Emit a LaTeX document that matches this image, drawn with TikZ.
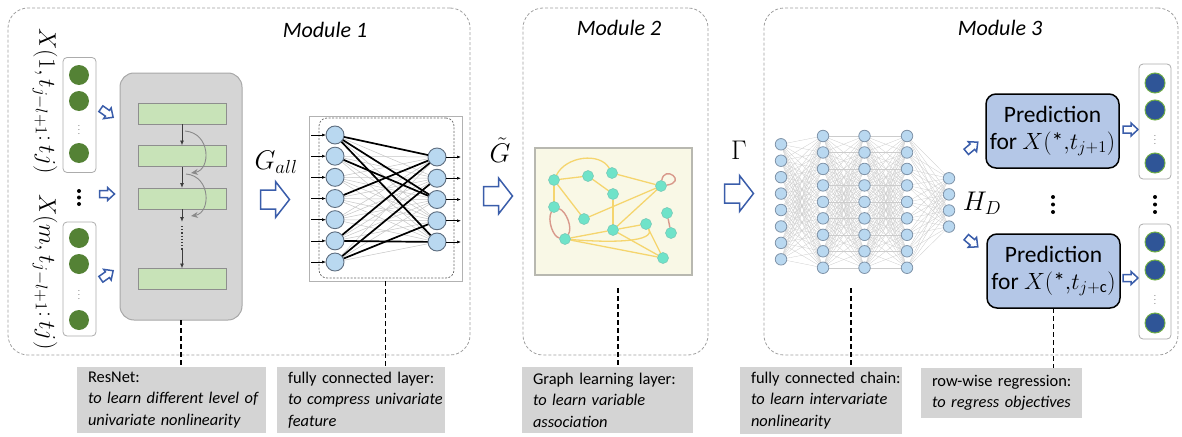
\RequirePackage{fix-cm}
\documentclass[tikz,border=0pt]{standalone}
\usepackage{fontspec}
\setmainfont{Carlito}
\usetikzlibrary{arrows.meta,calc}

\definecolor{framegray}{HTML}{A0A0A0}
\definecolor{arrblue}{HTML}{3A5DAA}
\definecolor{ingreen}{HTML}{548235}
\definecolor{resfill}{HTML}{D5D5D5}
\definecolor{resedge}{HTML}{A8A8A8}
\definecolor{barfill}{HTML}{C8E3B8}
\definecolor{baredge}{HTML}{8E8E8E}
\definecolor{arrdark}{HTML}{3C3C3C}
\definecolor{skipgray}{HTML}{8A8A8A}
\definecolor{fcfill}{HTML}{B9D8F0}
\definecolor{fcedge}{HTML}{5E6E80}
\definecolor{dedge}{HTML}{7F93A8}
\definecolor{gbg}{HTML}{F9F8E6}
\definecolor{gborder}{HTML}{B8B8B0}
\definecolor{gcyan}{HTML}{6FE3C9}
\definecolor{yedgec}{HTML}{F5D56E}
\definecolor{redgec}{HTML}{D99A8C}
\definecolor{predfill}{HTML}{B4C7E7}
\definecolor{outblue}{HTML}{2F5597}
\definecolor{outgreen}{HTML}{70AD47}
\definecolor{labgray}{HTML}{D4D4D4}

\pgfdeclarelayer{bg}
\pgfdeclarelayer{edges}
\pgfsetlayers{bg,edges,main}

% hollow block arrow: centre, angle, length, head width, shaft width, head length
\newcommand\hollowarrow[6]{%
  \draw[blockarr,shift={(#1)},rotate=#2]
    ({-#3/2},{-#5/2}) -- ({#3/2-#6},{-#5/2}) -- ({#3/2-#6},{-#4/2}) -- ({#3/2},0)
    -- ({#3/2-#6},{#4/2}) -- ({#3/2-#6},{#5/2}) -- ({-#3/2},{#5/2}) -- cycle;}

\begin{document}
\begin{tikzpicture}[x=1pt,y=-1pt,
  every node/.style={inner sep=0pt,outer sep=0pt},
  modframe/.style={draw=framegray,dash pattern=on 3pt off 2pt,rounded corners=20,line width=0.8},
  modtitle/.style={font=\fontsize{22}{26}\selectfont\itshape},
  vecbox/.style={draw=gray!65,fill=white,rounded corners=4,line width=0.8},
  gdot/.style={circle,fill=ingreen,minimum size=20},
  bdot/.style={circle,fill=outblue,draw=outgreen,line width=1,minimum size=20},
  bigdot/.style={circle,fill=black,minimum size=4},
  smalldots/.style={font=\fontsize{9}{9}\selectfont,text=gray},
  resbox/.style={draw=resedge,fill=resfill,rounded corners=14,line width=1},
  bar/.style={draw=baredge,fill=barfill,line width=0.8,minimum width=88,minimum height=21},
  resarr/.style={draw=arrdark,line width=0.9,-{Latex[length=5,width=4]}},
  skiparr/.style={draw=skipgray,line width=0.9,-{Stealth[length=7,width=6]}},
  fcnode/.style={circle,draw=fcedge,fill=fcfill,line width=0.9,minimum size=18},
  fcthin/.style={draw=gray!45,line width=0.5},
  fcthick/.style={draw=black,line width=1.7},
  smallarr/.style={draw=black,line width=0.6,-{Latex[length=4,width=3]}},
  dnode/.style={circle,draw=dedge,fill=fcfill,line width=0.8,minimum size=11.5},
  dline/.style={draw=gray!40,line width=0.3},
  gnode/.style={circle,fill=gcyan,draw=gcyan!70!gray,line width=0.5,minimum size=11},
  yedge/.style={draw=yedgec,line width=1.3},
  redge/.style={draw=redgec,line width=1.4},
  pred/.style={draw=black,line width=1.5,fill=predfill,rounded corners=10,align=center,
    font=\fontsize{23.5}{27}\selectfont,minimum width=133,minimum height=74},
  mathlab/.style={font=\fontsize{27}{31}\selectfont},
  blockarr/.style={draw=arrblue,fill=white,line width=1.5,line join=miter},
  dashconn/.style={draw=black,line width=1.8,dash pattern=on 5pt off 3pt},
  labbox/.style={fill=labgray,align=left,anchor=north west,inner xsep=11pt,
    font=\fontsize{16.4}{21.5}\selectfont}]

\useasboundingbox (0,0) rectangle (1182,436);

% ---------- frames and backgrounds ----------
\begin{pgfonlayer}{bg}
  \node[modframe,minimum width=462,minimum height=347] (mod1) at (239,181.5) {};
  \node[modframe,minimum width=185,minimum height=347] (mod2) at (615.5,181.5) {};
  \node[modframe,minimum width=414,minimum height=347] (mod3) at (971,181.5) {};
  \node[draw=gborder,fill=gbg,line width=1.2,minimum width=157,minimum height=127] (gbox) at (613.5,211.5) {};
  \node[draw=gray!60,fill=white,line width=0.8,minimum width=153,minimum height=165] (fcbox) at (385.5,198.5) {};
  \node[draw=gray!80!black,dash pattern=on 2pt off 1.5pt,rounded corners=8,line width=0.7,
        minimum width=135,minimum height=160] (fcin) at (386.5,198) {};
\end{pgfonlayer}

\node[modtitle] (title1) at (325,30) {Module 1};
\node[modtitle] (title2) at (619,28) {Module 2};
\node[modtitle] (title3) at (1000,28) {Module 3};

% ---------- Module 1: inputs ----------
\node[vecbox,minimum width=33,minimum height=115] (vin1) at (79.5,115) {};
\node[gdot] (in1a) at (79,75) {};
\node[gdot] (in1b) at (79,101) {};
\node[smalldots] (in1d) at (79,127) {$\vdots$};
\node[gdot] (in1c) at (79,153) {};

\node[vecbox,minimum width=33,minimum height=114] (vin2) at (79.5,279) {};
\node[gdot] (in2a) at (79,238) {};
\node[gdot] (in2b) at (79,264) {};
\node[smalldots] (in2d) at (79,292) {$\vdots$};
\node[gdot] (in2c) at (79,320) {};

\node[bigdot] (vd1) at (79,191) {};
\node[bigdot] (vd2) at (79,197.5) {};
\node[bigdot] (vd3) at (79,204) {};

\node[rotate=-90,font=\fontsize{24}{28}\selectfont] (xlab1) at (45,101) {$X(1,t_{j-l+1}\colon tj)$};
\node[rotate=-90,font=\fontsize{24}{28}\selectfont] (xlab2) at (45,272) {$X(m,t_{j-l+1}\colon tj)$};

\hollowarrow{107,113}{-35}{15}{13}{7}{7}
\hollowarrow{107,194}{0}{15}{13}{7}{7}
\hollowarrow{107,275}{35}{15}{13}{7}{7}

% ---------- Module 1: ResNet ----------
\node[resbox,minimum width=122,minimum height=247] (res) at (181,196.5) {};
\node[bar] (b1) at (182,113.5) {};
\node[bar] (b2) at (182,156) {};
\node[bar] (b3) at (182,198.5) {};
\node[bar] (b4) at (182,279) {};
\draw[resarr] (b1.south) -- (b2.north);
\draw[resarr] (b2.south) -- (b3.north);
\coordinate (r3end) at (182,222);
\coordinate (rdot1) at (182,226);
\coordinate (rdot2) at (182,250);
\draw[resarr] (b3.south) -- (r3end);
\draw[draw=arrdark,line width=1.1,dash pattern=on 1.2pt off 2pt] (rdot1) -- (rdot2);
\draw[resarr] (rdot2) -- (b4.north);
\coordinate (sk1a) at (185,131);
\coordinate (sk1b) at (191,173);
\coordinate (sk2a) at (186,174);
\coordinate (sk2b) at (191,216);
\draw[skiparr] (sk1a) .. controls (211,133) and (211,170) .. (sk1b);
\draw[skiparr] (sk2a) .. controls (211,176) and (211,213) .. (sk2b);

\node[mathlab] (gall) at (276,162) {$G_{all}$};
\hollowarrow{275,199.5}{0}{29}{36}{19}{14}

% ---------- Module 1: fully connected layer ----------
\foreach \i in {1,...,7} \node[fcnode] (fl\i) at (335,{135+(\i-1)*21.17}) {};
\foreach \j in {1,...,5} \node[fcnode] (fr\j) at (437,{157+(\j-1)*21.25}) {};
\begin{pgfonlayer}{edges}
  \foreach \i in {1,...,7} \foreach \j in {1,...,5} \draw[fcthin] (fl\i) -- (fr\j);
  \foreach \i/\j in {1/1,1/3,1/5,2/3,4/1,6/1,6/5,7/4,7/2} \draw[fcthick] (fl\i) -- (fr\j);
\end{pgfonlayer}
\foreach \i in {1,...,7} {
  \coordinate (fin\i) at (311,{135+(\i-1)*21.17});
  \draw[smallarr] (fin\i) -- (fl\i);
}
\foreach \j in {1,...,5} {
  \coordinate (fout\j) at (461,{157+(\j-1)*21.25});
  \draw[smallarr] (fr\j) -- (fout\j);
}

% ---------- Module 2: graph learning ----------
\node[mathlab] (gtil) at (500,150) {$\tilde{G}$};
\hollowarrow{498,196}{0}{29}{36}{19}{14}

\node[gnode] (gA) at (554,180) {};
\node[gnode] (gB) at (588,176) {};
\node[gnode] (gC) at (612,173) {};
\node[gnode] (gD) at (661,186) {};
\node[gnode] (gE) at (613,194) {};
\node[gnode] (gF) at (554,207) {};
\node[gnode] (gG) at (584,219) {};
\node[gnode] (gH) at (613,230) {};
\node[gnode] (gI) at (646,224) {};
\node[gnode] (gJ) at (667,213) {};
\node[gnode] (gK) at (671,233) {};
\node[gnode] (gL) at (565,239) {};
\node[gnode] (gM) at (663,258) {};
\begin{pgfonlayer}{edges}
  \draw[yedge] (gA) -- (gB);
  \draw[yedge] (gA) .. controls (566,156) and (600,152) .. (gC);
  \draw[yedge] (gA) -- (gG);
  \draw[yedge] (gA) -- (gF);
  \draw[yedge] (gB) -- (gE);
  \draw[yedge] (gC) -- (gD);
  \draw[yedge] (gE) -- (gH);
  \draw[yedge] (gG) -- (gD);
  \draw[yedge] (gH) -- (gD);
  \draw[yedge] (gL) -- (gH);
  \draw[yedge] (gH) -- (gI);
  \draw[yedge] (gL) -- (gM);
  \draw[yedge] (gH) -- (gM);
  \draw[yedge] (gI) -- (gM);
  \draw[yedge] (gL) .. controls (612,243) and (656,242) .. (gI);
  \draw[redge] (gF) .. controls (547,220) and (553,237) .. (gL);
  \draw[redge] (gF) .. controls (566,211) and (573,228) .. (gL);
  \draw[redge] (gD) .. controls (664,164) and (688,182) .. (gD);
  \draw[redge] (gJ) -- (gK);
\end{pgfonlayer}
\coordinate (g2dash) at (618,288);

% ---------- Module 3: fully connected chain ----------
\node[mathlab] (gam) at (739,150) {$\Gamma$};
\hollowarrow{739,193.5}{0}{29}{36}{19}{14}

\foreach \i in {1,...,8} \node[dnode] (da\i) at (781,{144.3+(\i-1)*16.43}) {};
\foreach \i in {1,...,9} {
  \node[dnode] (db\i) at (823,{136+(\i-1)*16.47}) {};
  \node[dnode] (dc\i) at (864.5,{136+(\i-1)*16.47}) {};
  \node[dnode] (dd\i) at (907,{136+(\i-1)*16.47}) {};
}
\foreach \i in {1,...,4} \node[dnode] (de\i) at (949,{178.3+(\i-1)*16.1}) {};
\begin{pgfonlayer}{edges}
  \foreach \i in {1,...,8} \foreach \j in {1,...,9} \draw[dline] (da\i) -- (db\j);
  \foreach \i in {1,...,9} \foreach \j in {1,...,9} {
    \draw[dline] (db\i) -- (dc\j);
    \draw[dline] (dc\i) -- (dd\j);
  }
  \foreach \i in {1,...,9} \foreach \j in {1,...,4} \draw[dline] (dd\i) -- (de\j);
\end{pgfonlayer}
\coordinate (m3dash) at (851,288);

\node[mathlab] (hd) at (982,203) {$H_D$};
\hollowarrow{972,147}{40}{15}{13}{7}{7}
\hollowarrow{972,242}{-40}{15}{13}{7}{7}

% ---------- Module 3: row-wise regression ----------
\node[pred] (p1) at (1052.5,131) {Prediction\\for $X(\mbox{*}{,}t_{j+1})$};
\node[pred] (p2) at (1053.5,271) {Prediction\\for $X(\mbox{*}{,}t_{j+\mathrm{c}})$};
\node[bigdot] (pd1) at (1053,197) {};
\node[bigdot] (pd2) at (1053,204.5) {};
\node[bigdot] (pd3) at (1053,212) {};

\hollowarrow{1130.5,129.5}{0}{15}{13}{7}{7}
\hollowarrow{1130.5,278}{0}{15}{13}{7}{7}

\node[vecbox,minimum width=32,minimum height=115] (vout1) at (1155,121.5) {};
\node[bdot] (o1a) at (1155,83) {};
\node[bdot] (o1b) at (1155,110) {};
\node[smalldots] (o1d) at (1155,137) {$\vdots$};
\node[bdot] (o1c) at (1155,163) {};
\node[vecbox,minimum width=32,minimum height=115] (vout2) at (1155,281.5) {};
\node[bdot] (o2a) at (1155,242) {};
\node[bdot] (o2b) at (1155,270) {};
\node[smalldots] (o2d) at (1155,297) {$\vdots$};
\node[bdot] (o2c) at (1155,323) {};
\node[bigdot] (od1) at (1155,197) {};
\node[bigdot] (od2) at (1155,204.5) {};
\node[bigdot] (od3) at (1155,212) {};

% ---------- captions ----------
\node[labbox,minimum width=189,minimum height=66,text width=167] (lab1) at (77,367)
  {ResNet:\\\mbox{\itshape to learn different level of}\\\mbox{\itshape univariate nonlinearity}};
\node[labbox,minimum width=168,minimum height=66,text width=146] (lab2) at (277,367)
  {\mbox{fully connected layer:}\\\mbox{\itshape to compress univariate}\\\mbox{\itshape feature}};
\node[labbox,minimum width=171,minimum height=66,text width=149] (lab3) at (522,367)
  {\mbox{Graph learning layer:}\\\mbox{\itshape to learn variable}\\\mbox{\itshape association}};
\node[labbox,minimum width=162,minimum height=67,text width=140] (lab4) at (740,367)
  {\mbox{fully connected chain:}\\\mbox{\itshape to learn intervariate}\\\mbox{\itshape nonlinearity}};
\node[labbox,minimum width=161,minimum height=50,text width=139] (lab5) at (921,368)
  {\mbox{row-wise regression:}\\\mbox{\itshape to regress objectives}};

\draw[dashconn] (res.south) -- (res.south |- lab1.north);
\draw[dashconn] (fcbox.south) -- (fcbox.south |- lab2.north);
\draw[dashconn] (g2dash) -- (g2dash |- lab3.north);
\draw[dashconn] (m3dash) -- (m3dash |- lab4.north);
\draw[dashconn] (p2.south) -- (p2.south |- lab5.north);

\end{tikzpicture}
\end{document}
